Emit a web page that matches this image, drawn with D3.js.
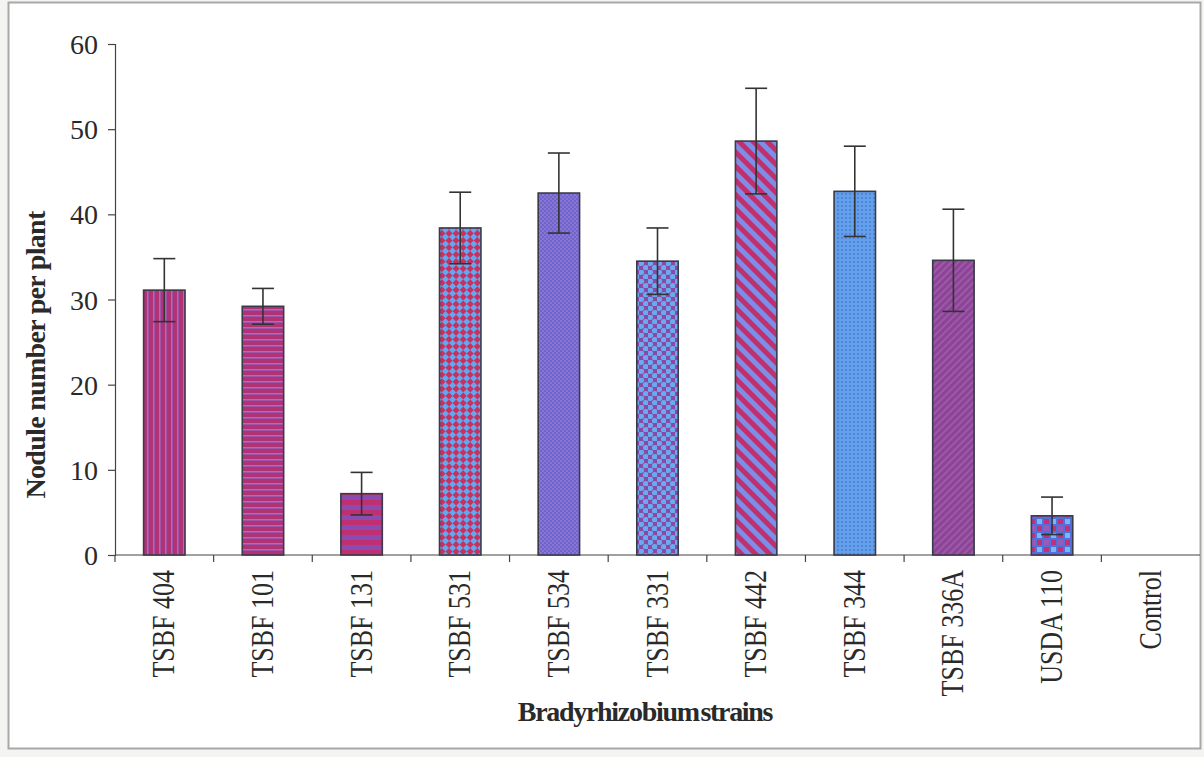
<!DOCTYPE html>
<html>
<head>
<meta charset="utf-8">
<script src="https://cdn.jsdelivr.net/npm/d3@7/dist/d3.min.js"></script>
<style>
  html, body { margin: 0; padding: 0; background: #ffffff; }
  svg { display: block; }
  text { font-family: "Liberation Serif", "Times New Roman", serif; fill: #2a2a2a; }
</style>
</head>
<body>
<svg id="chart" width="1204" height="757"></svg>
<script>
// Nodule number per plant for each Bradyrhizobium strain (mean ± error)
const strains = ["TSBF 404", "TSBF 101", "TSBF 131", "TSBF 531", "TSBF 534",
                 "TSBF 331", "TSBF 442", "TSBF 344", "TSBF 336A", "USDA 110", "Control"];
const noduleMeans = [31.1, 29.2, 7.2, 38.4, 42.5, 34.5, 48.6, 42.7, 34.6, 4.6, 0];
const noduleErrors = [3.7, 2.1, 2.5, 4.2, 4.7, 3.9, 6.2, 5.3, 6.0, 2.2, 0];
const yTicks = [0, 10, 20, 30, 40, 50, 60];

const svg = d3.select("#chart");
const W = 1204, H = 757;
const plot = { left: 115, right: 1200, top: 44, bottom: 555 };

// paper background and frame
svg.append("rect").attr("width", W).attr("height", H).attr("fill", "#f4f4f2");
svg.append("rect").attr("x", 8.5).attr("y", 2.5).attr("width", 1192).attr("height", 746)
  .attr("fill", "#ffffff").attr("stroke", "#a8a8a8").attr("stroke-width", 2);

const defs = svg.append("defs");

// fill patterns, one per bar
function pat(id, w, h, draw, transform) {
  const p = defs.append("pattern").attr("id", id).attr("patternUnits", "userSpaceOnUse")
    .attr("width", w).attr("height", h);
  if (transform) p.attr("patternTransform", transform);
  draw(p);
}

pat("p0", 6, 6, p => {
  p.append("rect").attr("width", 6).attr("height", 6).attr("fill", "#b23276");
  p.append("rect").attr("x", 3).attr("width", 1.5).attr("height", 6).attr("fill", "#8a78d8");
});
pat("p1", 6, 6, p => {
  p.append("rect").attr("width", 6).attr("height", 6).attr("fill", "#b23276");
  p.append("rect").attr("y", 3).attr("width", 6).attr("height", 1.5).attr("fill", "#8a78d8");
});
pat("p2", 8, 10, p => {
  p.append("rect").attr("width", 8).attr("height", 10).attr("fill", "#c03070");
  p.append("rect").attr("y", 5).attr("width", 8).attr("height", 5).attr("fill", "#8a4cb0");
});
pat("p3", 10, 10, p => {
  p.append("rect").attr("width", 10).attr("height", 10).attr("fill", "#c8305e");
  p.append("rect").attr("width", 5).attr("height", 5).attr("fill", "#62a8f0");
  p.append("rect").attr("x", 5).attr("y", 5).attr("width", 5).attr("height", 5).attr("fill", "#62a8f0");
}, "rotate(45)");
pat("p4", 4, 4, p => {
  p.append("rect").attr("width", 4).attr("height", 4).attr("fill", "#6c66cc");
  p.append("rect").attr("width", 2).attr("height", 2).attr("fill", "#8a74d4");
  p.append("rect").attr("x", 2).attr("y", 2).attr("width", 2).attr("height", 2).attr("fill", "#8a74d4");
});
pat("p5", 9, 9, p => {
  p.append("rect").attr("width", 9).attr("height", 9).attr("fill", "#8a4aa4");
  p.append("circle").attr("cx", 2.25).attr("cy", 2.25).attr("r", 2.8).attr("fill", "#6aaaf0");
  p.append("circle").attr("cx", 6.75).attr("cy", 6.75).attr("r", 2.8).attr("fill", "#6aaaf0");
});
pat("p6", 10, 10, p => {
  p.append("rect").attr("width", 10).attr("height", 10).attr("fill", "#c0306e");
  p.append("rect").attr("x", 5).attr("width", 5).attr("height", 10).attr("fill", "#7d8ee6");
}, "rotate(-45)");
pat("p7", 4, 4, p => {
  p.append("rect").attr("width", 4).attr("height", 4).attr("fill", "#62a0ec");
  p.append("circle").attr("cx", 2).attr("cy", 2).attr("r", 0.9).attr("fill", "#4a78d0");
});
pat("p8", 5, 5, p => {
  p.append("rect").attr("width", 5).attr("height", 5).attr("fill", "#8c4496");
  p.append("rect").attr("x", 2.5).attr("width", 1.2).attr("height", 5).attr("fill", "#a866b4");
}, "rotate(45)");
pat("p9", 14, 14, p => {
  p.append("rect").attr("width", 14).attr("height", 14).attr("fill", "#4e72dc");
  p.append("rect").attr("x", 1).attr("y", 1).attr("width", 5).attr("height", 5).attr("fill", "#7ab6f6");
  p.append("rect").attr("x", 8).attr("y", 1).attr("width", 5).attr("height", 5).attr("fill", "#c2307a");
  p.append("rect").attr("x", 1).attr("y", 8).attr("width", 5).attr("height", 5).attr("fill", "#c2307a");
  p.append("rect").attr("x", 8).attr("y", 8).attr("width", 5).attr("height", 5).attr("fill", "#9c5ab8");
});
pat("p10", 4, 4, p => {
  p.append("rect").attr("width", 4).attr("height", 4).attr("fill", "#888");
});

const x = d3.scaleBand().domain(strains).range([plot.left, plot.right]).paddingInner(0.58).paddingOuter(0.29);
const y = d3.scaleLinear().domain([0, 60]).range([plot.bottom, plot.top]);
const step = x.step();

// y axis
const yAxis = d3.axisLeft(y).tickValues(yTicks).tickSize(7).tickPadding(10);
const gy = svg.append("g").attr("transform", `translate(${plot.left},0)`).call(yAxis);
gy.select(".domain").attr("stroke", "#444").attr("stroke-width", 1.2);
gy.selectAll(".tick line").attr("stroke", "#444").attr("stroke-width", 1.2);
gy.selectAll(".tick text")
  .attr("font-size", 28).attr("fill", "#2a2a2a").attr("font-family", "Liberation Serif, serif")
  .attr("dy", "0.34em");

// x axis line with ticks at category boundaries
svg.append("line").attr("x1", plot.left).attr("x2", plot.right)
  .attr("y1", plot.bottom).attr("y2", plot.bottom).attr("stroke", "#444").attr("stroke-width", 1.2);
svg.append("g").selectAll("line").data(d3.range(strains.length)).join("line")
  .attr("x1", i => plot.left + i * step).attr("x2", i => plot.left + i * step)
  .attr("y1", plot.bottom).attr("y2", plot.bottom + 7)
  .attr("stroke", "#444").attr("stroke-width", 1.2);

// bars
svg.append("g").selectAll("rect").data(strains).join("rect")
  .attr("x", d => x(d))
  .attr("y", (d, i) => y(noduleMeans[i]))
  .attr("width", x.bandwidth())
  .attr("height", (d, i) => y(0) - y(noduleMeans[i]))
  .attr("fill", (d, i) => `url(#p${i})`)
  .attr("stroke", "#3a3a48").attr("stroke-width", 1.6);

// error bars
const eb = svg.append("g").attr("stroke", "#333").attr("stroke-width", 1.6);
strains.forEach((d, i) => {
  if (noduleErrors[i] === 0) return;
  const cx = x(d) + x.bandwidth() / 2;
  const hi = y(noduleMeans[i] + noduleErrors[i]);
  const lo = y(noduleMeans[i] - noduleErrors[i]);
  eb.append("line").attr("x1", cx).attr("x2", cx).attr("y1", hi).attr("y2", lo);
  eb.append("line").attr("x1", cx - 11).attr("x2", cx + 11).attr("y1", hi).attr("y2", hi);
  eb.append("line").attr("x1", cx - 11).attr("x2", cx + 11).attr("y1", lo).attr("y2", lo);
});

// category labels, rotated
svg.append("g").selectAll("text").data(strains).join("text")
  .attr("transform", d => `translate(${x(d) + x.bandwidth() / 2 + 10},570) scale(1.25,1) rotate(-90)`)
  .attr("text-anchor", "end")
  .attr("font-size", 26)
  .attr("fill", d => d === "Control" ? "#555" : "#2a2a2a")
  .text(d => d);

// axis titles
svg.append("text")
  .attr("x", 645).attr("y", 721)
  .attr("text-anchor", "middle")
  .attr("font-size", 28).attr("font-weight", "bold")
  .attr("letter-spacing", -1.3).attr("word-spacing", -4)
  .text("Bradyrhizobium strains");

svg.append("text")
  .attr("transform", "translate(45,355) rotate(-90)")
  .attr("text-anchor", "middle")
  .attr("font-size", 28).attr("font-weight", "bold").attr("letter-spacing", -0.7)
  .text("Nodule number per plant");
</script>
</body>
</html>
